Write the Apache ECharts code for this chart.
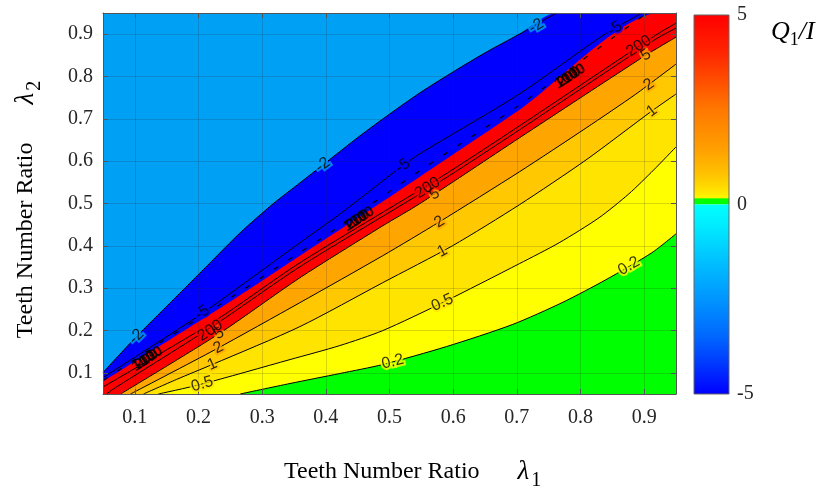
<!DOCTYPE html>
<html><head><meta charset="utf-8">
<script src="https://cdn.jsdelivr.net/npm/echarts@6/dist/echarts.min.js"></script>
<style>html,body{margin:0;padding:0;background:#fff}#c{width:827px;height:493px}</style>
</head><body><div id="c"></div>
<script>
// ---- axes ----
const axisRange = [0.05, 0.95];
const xTicks = [0.1, 0.2, 0.3, 0.4, 0.5, 0.6, 0.7, 0.8, 0.9];
const yTicks = [0.1, 0.2, 0.3, 0.4, 0.5, 0.6, 0.7, 0.8, 0.9];
const cbTicks = [-5, 0, 5];

// ---- contour curves: [lambda1, lambda2] ----
const cNeg2 = [[0.05,0.1007],[0.101,0.1832],[0.1558,0.2658],[0.2184,0.3601],[0.2654,0.4308],[0.3171,0.4992],[0.3593,0.5487],[0.3953,0.5911],[0.4533,0.6595],[0.5003,0.7114],[0.5472,0.7609],[0.602,0.8128],[0.6521,0.8576],[0.7038,0.9],[0.7617,0.95]];
const cNeg5 = [[0.05,0.0889],[0.1089,0.1455],[0.2075,0.2422],[0.2967,0.3388],[0.3593,0.4072],[0.4267,0.4803],[0.516,0.5841],[0.5472,0.6171],[0.7038,0.7585],[0.8337,0.8953],[0.8965,0.95]];
const cNegDense = [[0.05,0.0818],[0.1449,0.1761],[0.1918,0.221],[0.2701,0.2964],[0.3484,0.3742],[0.4063,0.4308],[0.5472,0.577],[0.7038,0.7326],[0.9044,0.95]];
const cPole = [[0.05,0.0795],[0.1402,0.1644],[0.2592,0.2775],[0.3593,0.3766],[0.4267,0.4426],[0.5472,0.5628],[0.7038,0.7208],[0.923,0.95]];
const c200 = [[0.05,0.0665],[0.2263,0.2233],[0.3593,0.3601],[0.5785,0.5604],[0.7038,0.683],[0.9182,0.8977],[0.95,0.926]];
const c100 = [[0.0558,0.05],[0.065,0.0606],[0.2263,0.2139],[0.3593,0.3506],[0.5785,0.551],[0.7038,0.6736],[0.9182,0.8883],[0.95,0.9142]];
const c5 = [[0.0776,0.05],[0.2325,0.1927],[0.3593,0.3247],[0.4893,0.4473],[0.5472,0.4992],[0.7038,0.6548],[0.9028,0.8505],[0.95,0.893]];
const c2 = [[0.0932,0.05],[0.2263,0.1549],[0.3593,0.2658],[0.4893,0.3766],[0.5785,0.4567],[0.7038,0.5746],[0.8087,0.6783],[0.887,0.7585],[0.95,0.8293]];
const c1 = [[0.1136,0.05],[0.1652,0.0842],[0.2215,0.1196],[0.3593,0.2092],[0.4893,0.3129],[0.5989,0.4001],[0.7038,0.4968],[0.8087,0.6029],[0.912,0.7185],[0.95,0.7585]];
const c05 = [[0.137,0.05],[0.2028,0.0724],[0.3437,0.1313],[0.422,0.1644],[0.4893,0.1997],[0.5832,0.2657],[0.7038,0.3577],[0.7664,0.4072],[0.829,0.4662],[0.876,0.5228],[0.9151,0.5794],[0.95,0.6336]];
const c02 = [[0.2654,0.05],[0.3437,0.0748],[0.422,0.0984],[0.4893,0.1196],[0.5895,0.162],[0.6928,0.2139],[0.7711,0.2658],[0.84,0.32],[0.912,0.3836],[0.95,0.4284]];

// ---- contour labels ----
const labelTexts = ['-2','-2','-2','-5','-5','-5','5','5','5','2','2','2','1','1','1','0.5','0.5','0.2','0.2','200','200','200'];
const labelPoints = [[0.3953,0.5911],[0.7304,0.9189],[0.1026,0.1856],[0.5207,0.5891],[0.8541,0.913],[0.2059,0.2422],[0.5707,0.522],[0.9028,0.8505],[0.2325,0.1927],[0.5785,0.4567],[0.9073,0.781],[0.231,0.159],[0.5832,0.387],[0.912,0.7185],[0.2215,0.1196],[0.5832,0.2657],[0.2059,0.0733],[0.505,0.126],[0.876,0.352],[0.2184,0.1997],[0.5598,0.5369],[0.8918,0.8717]];
const labelAngles = [37,31,45,35,33,35,33,32,33,32,35,28,28,37,24,24,16,14,30,33,33,33];
const blobPoints = [[0.1183,0.1313],[0.4502,0.4615],[0.7821,0.7986]];
const blobTexts = ['100','200','-100'];

// ---- styles ----
const C = {
  lightBlue:'#00A0F5', blue:'#0000FF', red:'#FF0000', orange:'#FFA500',
  o2:'#FFC800', o1:'#FFE400', yellow:'#FFFF00', green:'#00FF00'
};
const halo = {'-2':C.lightBlue,'-5':C.blue,'5':C.orange,'2':C.orange,'1':C.o2,'0.5':C.o1,'0.2':C.yellow,'200':C.red};
const [lo, hi] = axisRange;
const SM = 0.25;
const labelFont = {fontFamily:'Liberation Sans', fontSize:16};

const fills = [
  {curve:cNeg2, color:C.blue, top:true},
  {curve:cPole, color:C.red, top:true},
  {curve:c5, color:C.orange},
  {curve:c2, color:C.o2},
  {curve:c1, color:C.o1},
  {curve:c05, color:C.yellow},
  {curve:c02, color:C.green}
];
const series = [];
fills.forEach(f => {
  series.push({
    type:'line', xAxisIndex:0, yAxisIndex:0, silent:true, z:1,
    data: f.top ? f.curve.concat([[hi, hi]]) : f.curve,
    showSymbol:false, symbol:'none', smooth:SM,
    lineStyle:{width:0, opacity:0},
    areaStyle:{color:f.color, opacity:1, origin:'start'}
  });
});
[cNeg2, cNeg5, c200, c100, c5, c2, c1, c05, c02].forEach(c => {
  series.push({
    type:'line', xAxisIndex:0, yAxisIndex:0, silent:true, z:2,
    data:c, symbol:'none', smooth:SM,
    lineStyle:{color:'#000', width:1}
  });
});
series.push({
  type:'line', xAxisIndex:0, yAxisIndex:0, silent:true, z:2,
  data:cNegDense, symbol:'none', smooth:SM,
  lineStyle:{color:'#000', width:1.2, type:[5,12]}
});
// label gap (halo) layer, then text layer
series.push({
  type:'scatter', xAxisIndex:0, yAxisIndex:0, silent:true, z:5, symbolSize:0,
  data: labelPoints.map((p,i) => ({
    value:p,
    label:Object.assign({show:true, position:'inside', formatter:labelTexts[i], rotate:labelAngles[i],
      color:halo[labelTexts[i]], textBorderColor:halo[labelTexts[i]], textBorderWidth:4}, labelFont)
  }))
});
series.push({
  type:'scatter', xAxisIndex:0, yAxisIndex:0, silent:true, z:6, symbolSize:0,
  data: labelPoints.map((p,i) => ({
    value:p,
    label:Object.assign({show:true, position:'inside', formatter:labelTexts[i], rotate:labelAngles[i],
      color:'#000', textBorderWidth:0}, labelFont)
  }))
});
blobTexts.forEach((t, k) => {
  series.push({
    type:'scatter', xAxisIndex:0, yAxisIndex:0, silent:true, z:6, symbolSize:0,
    data: blobPoints.map(p => ({value:p})),
    label:{show:true, position:'inside', formatter:t, rotate:33, offset:[(k-1)*3, 0],
      color:'#000', fontFamily:'Liberation Sans', fontSize:15, fontWeight:'bold'}
  });
});
// colorbar
series.push({
  type:'bar', xAxisIndex:2, yAxisIndex:2, stack:'cb', barWidth:'100%', silent:true,
  data:[cbTicks[2]],
  itemStyle:{color:new echarts.graphic.LinearGradient(0,0,0,1,[
    {offset:0,color:'#FF0000'},{offset:0.2,color:'#FF2600'},{offset:0.5,color:'#FF7800'},
    {offset:0.71,color:'#FFA000'},{offset:0.84,color:'#FFC200'},{offset:0.92,color:'#FFE000'},
    {offset:0.965,color:'#FFF600'},{offset:0.97,color:'#00FF00'},{offset:1,color:'#00FF00'}])}
});
series.push({
  type:'bar', xAxisIndex:2, yAxisIndex:2, stack:'cb', barWidth:'100%', silent:true,
  data:[cbTicks[0]],
  itemStyle:{color:new echarts.graphic.LinearGradient(0,0,0,1,[
    {offset:0,color:'#00FFFF'},{offset:0.1,color:'#00EEFF'},{offset:0.3,color:'#00C0FF'},
    {offset:0.5,color:'#0095FF'},{offset:0.7,color:'#0066FF'},{offset:0.85,color:'#0035FF'},
    {offset:1,color:'#0000FF'}])}
});

const tickFont = {fontFamily:'Liberation Serif', fontSize:20, color:'#262626'};
const boxLine = {show:true, lineStyle:{color:'#555', width:1}};
const fmt = v => Number(v).toFixed(1);
const titleRich = {
  a:{fontFamily:'Liberation Serif', fontWeight:'normal', fontSize:24, color:'#000', lineHeight:38},
  l:{fontFamily:'Liberation Serif', fontWeight:'normal', fontStyle:'italic', fontSize:27, color:'#000', padding:[0,0,0,38], lineHeight:38},
  s:{fontFamily:'Liberation Serif', fontWeight:'normal', fontSize:20, color:'#000', verticalAlign:'bottom', lineHeight:38, padding:[0,0,0,2]}
};

const option = {
  animation:false,
  backgroundColor:'#fff',
  grid:[
    {left:103, top:13, width:573, height:381, show:true, backgroundColor:C.lightBlue, borderWidth:0},
    {left:694, top:15, width:35, height:379, show:true, backgroundColor:'transparent', borderColor:'#666', borderWidth:1, z:5}
  ],
  title:[
    {left:279, top:448, text:'{a|Teeth Number Ratio}{l|λ}{s|1}', textStyle:{fontWeight:'normal', rich:titleRich}},
    {left:766, top:10, text:'{q|Q}{s|1}{q|/I}', textStyle:{fontWeight:'normal', rich:{
      q:{fontFamily:'Liberation Serif', fontWeight:'normal', fontStyle:'italic', fontSize:26, color:'#000', lineHeight:34},
      s:{fontFamily:'Liberation Serif', fontWeight:'normal', fontSize:18, color:'#000', verticalAlign:'bottom', lineHeight:34}
    }}}
  ],
  xAxis:[
    {type:'value', gridIndex:0, min:lo, max:hi, position:'bottom', z:3,
     axisLine:boxLine,
     axisTick:{show:true, inside:true, length:5, customValues:xTicks, lineStyle:{color:'#555'}},
     axisLabel:Object.assign({customValues:xTicks, formatter:fmt, margin:14}, tickFont),
     splitLine:{show:true, lineStyle:{color:'rgba(38,38,38,0.18)', width:1}}},
    {type:'value', gridIndex:0, min:lo, max:hi, position:'top', z:3,
     axisLine:boxLine,
     axisTick:{show:true, inside:true, length:5, customValues:xTicks, lineStyle:{color:'#555'}},
     axisLabel:{show:false}, splitLine:{show:false}},
    {type:'category', gridIndex:1, data:['cb'], show:false}
  ],
  yAxis:[
    {type:'value', gridIndex:0, min:lo, max:hi, position:'left', z:3,
     axisLine:boxLine,
     axisTick:{show:true, inside:true, length:5, customValues:yTicks, lineStyle:{color:'#555'}},
     axisLabel:Object.assign({customValues:yTicks, formatter:fmt, margin:10}, tickFont),
     splitLine:{show:true, lineStyle:{color:'rgba(38,38,38,0.18)', width:1}},
     name:'{a|Teeth Number Ratio}{l|λ}{s|2}', nameLocation:'middle', nameRotate:90, nameGap:58,
     nameTextStyle:{padding:[0,12,0,0], rich:titleRich}},
    {type:'value', gridIndex:0, min:lo, max:hi, position:'right', z:3,
     axisLine:boxLine,
     axisTick:{show:true, inside:true, length:5, customValues:yTicks, lineStyle:{color:'#555'}},
     axisLabel:{show:false}, splitLine:{show:false}},
    {type:'value', gridIndex:1, min:cbTicks[0], max:cbTicks[2], interval:cbTicks[1]-cbTicks[0], position:'right',
     axisLine:{show:false}, axisTick:{show:false}, splitLine:{show:false},
     axisLabel:Object.assign({margin:8}, tickFont)}
  ],
  series:series
};
const chart = echarts.init(document.getElementById('c'));
chart.setOption(option);
</script>
</body></html>
